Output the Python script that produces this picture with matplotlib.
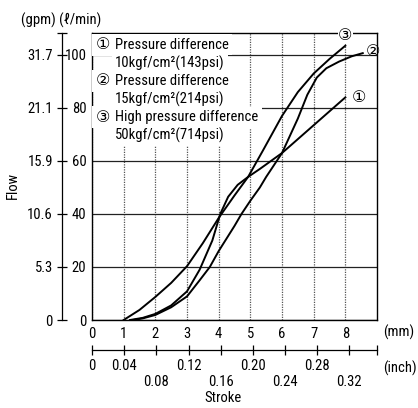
import matplotlib
matplotlib.use("Agg")
from matplotlib import pyplot as plt

plt.rcParams['font.family'] = ['Roboto Condensed', 'DejaVu Sans']
plt.rcParams['font.size'] = 10.5

# stroke (mm) vs flow (l/min)
stroke_1 = [1.2, 1.6, 2.0, 2.5, 3.0, 3.4, 3.8, 4.05, 4.3, 4.6, 4.93, 5.3, 6.0, 7.0, 8.0]
flow_1 = [0, 0.8, 2.3, 5.5, 10.8, 19, 30, 40, 46.5, 51, 54, 57, 63, 73.5, 84]

stroke_2 = [1.3, 1.6, 2.0, 2.5, 3.0, 3.4, 3.72, 4.0, 4.5, 4.72, 5.0, 5.3, 5.5, 6.0,
            6.5, 6.8, 7.1, 7.4, 7.8, 8.2, 8.55]
flow_2 = [0, 0.6, 1.9, 4.8, 8.9, 15, 20, 26, 35.5, 40, 45, 50, 54, 63,
          76, 85, 91.5, 95, 97.5, 99.5, 100.7]

stroke_3 = [1.0, 1.5, 2.0, 2.5, 3.0, 3.5, 4.0, 4.5, 4.93, 5.4, 6.0, 6.5, 7.0, 7.5, 8.0]
flow_3 = [0, 3.8, 8.7, 14, 20.3, 29, 38.5, 47, 54, 64, 77, 86, 93, 98.5, 103.5]

# axis ticks
mm_ticks = [0, 1, 2, 3, 4, 5, 6, 7, 8]
lpm_ticks = [0, 20, 40, 60, 80, 100]
gpm_labels = ['0', '5.3', '10.6', '15.9', '21.1', '31.7']
inch_ticks = [0, 0.04, 0.08, 0.12, 0.16, 0.20, 0.24, 0.28, 0.32]
inch_labels = ['0', '0.04', '\n0.08', '0.12', '\n0.16', '0.20', '\n0.24', '0.28', '\n0.32']

legend_lines = [
    ('①', 'Pressure difference', '10kgf/cm²(143psi)'),
    ('②', 'Pressure difference', '15kgf/cm²(214psi)'),
    ('③', 'High pressure difference', '50kgf/cm²(714psi)'),
]

W, H = 418, 408
fig = plt.figure(figsize=(W / 100, H / 100), dpi=100)
ax = fig.add_axes([92 / W, 1 - 320 / H, 285 / W, 287 / H])
ax.set_xlim(0, 9)
ax.set_ylim(0, 108.3)

# grid
ax.set_xticks(mm_ticks)
ax.set_yticks(lpm_ticks)
ax.xaxis.grid(True, color='#555555', linestyle=(0, (1, 1)), linewidth=0.9)
ax.yaxis.grid(True, color='#222222', linewidth=0.9)
ax.set_axisbelow(True)
ax.tick_params(axis='x', length=0, pad=5)
ax.tick_params(axis='y', length=0, pad=4)
for s in ax.spines.values():
    s.set_linewidth(1.0)

# curves
ax.plot(stroke_1, flow_1, color='black', lw=1.4)
ax.plot(stroke_2, flow_2, color='black', lw=1.4)
ax.plot(stroke_3, flow_3, color='black', lw=1.4)

ax.annotate('①', (stroke_1[-1], flow_1[-1]), xytext=(10, 0), textcoords='offset points',
            ha='center', va='center', family='DejaVu Sans', fontsize=11.5)
ax.annotate('②', (stroke_2[-1], flow_2[-1]), xytext=(7.5, 1), textcoords='offset points',
            ha='center', va='center', family='DejaVu Sans', fontsize=11.5)
ax.annotate('③', (stroke_3[-1], flow_3[-1]), xytext=(0, 7), textcoords='offset points',
            ha='center', va='center', family='DejaVu Sans', fontsize=11.5,
            bbox=dict(facecolor='white', edgecolor='none', pad=0.5), annotation_clip=False, zorder=5)

# legend block
box = dict(facecolor='white', edgecolor='none', pad=2.5)
y0 = 103.8
for i, (num, l1, l2) in enumerate(legend_lines):
    ya = y0 - i * 13.6
    yb = ya - 6.9
    ax.text(0.35, ya, num, ha='center', va='center', family='DejaVu Sans', fontsize=11.5, bbox=box)
    ax.text(0.73, ya, l1, ha='left', va='center', bbox=box)
    ax.text(0.73, yb, l2, ha='left', va='center', bbox=box)

# gpm axis on the left
gpm = ax.secondary_yaxis(-30 / 285)
gpm.set_yticks(lpm_ticks + [108.3])
gpm.set_yticklabels(gpm_labels + [''])
gpm.tick_params(direction='inout', length=7, width=0.9, pad=3)
gpm.spines['left'].set_linewidth(0.9)

# inch axis below
inch = ax.secondary_xaxis(-30 / 287, functions=(lambda x: x / 25.4, lambda x: x * 25.4))
inch.set_xticks(inch_ticks + [9 / 25.4])
inch.set_xticklabels(inch_labels + [''])
inch.tick_params(direction='inout', length=7, width=0.9, pad=3)
inch.spines['bottom'].set_linewidth(0.9)

fig.text(383 / W, 1 - 332 / H, '(mm)', ha='left', va='center')
fig.text(383 / W, 1 - 368 / H, '(inch)', ha='left', va='center')
fig.text(223 / W, 1 - 398 / H, 'Stroke', ha='center', va='center')
fig.text(13 / W, 1 - 185 / H, 'Flow', ha='center', va='center', rotation=90)
fig.text(21 / W, 1 - 20 / H, '(gpm) (ℓ/min)', ha='left', va='center')

fig.savefig('out.png', dpi=100)
